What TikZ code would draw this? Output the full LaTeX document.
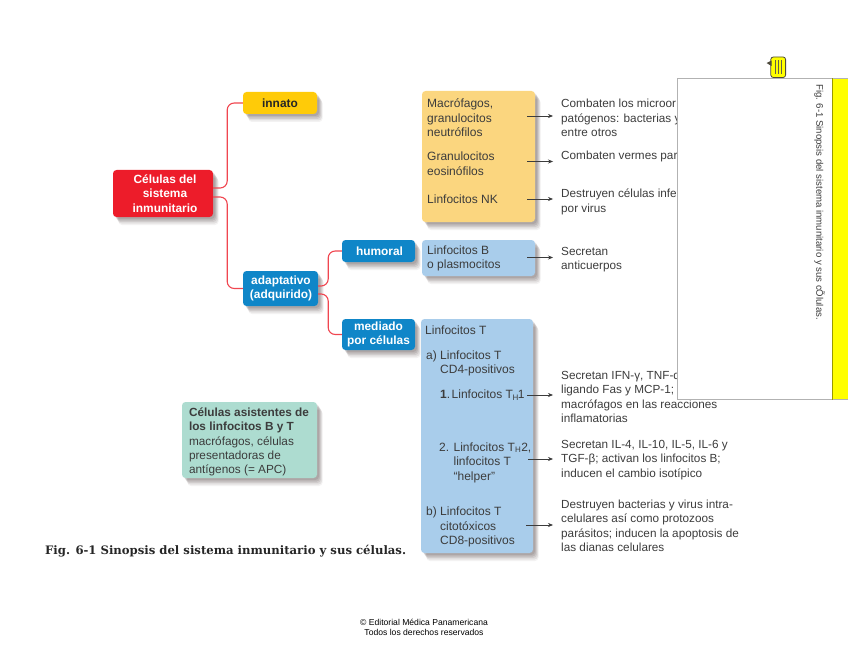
\documentclass[tikz,border=0pt]{standalone}
\usepackage{fontspec}
\setmainfont{Liberation Sans}
\newfontfamily\capfont{DejaVu Serif}
\usetikzlibrary{shadows,arrows.meta}
\definecolor{cRed}{HTML}{ED1C2A}
\definecolor{cGold}{HTML}{FFCB08}
\definecolor{cBlue}{HTML}{0F86C8}
\definecolor{cPaleBlue}{HTML}{A9CDEB}
\definecolor{cPaleYellow}{HTML}{FBD67F}
\definecolor{cTeal}{HTML}{ADDCD0}
\definecolor{cLine}{HTML}{F04650}
\definecolor{cText}{HTML}{3C3C3C}
\definecolor{cNote}{HTML}{FFFF00}
\definecolor{cShade}{HTML}{3A2A2A}
\tikzset{
  softshadow/.style={
    drop shadow={shadow xshift=5.5pt,shadow yshift=-8pt,opacity=.06,fill=cShade},
    drop shadow={shadow xshift=5pt,shadow yshift=-6.5pt,opacity=.09,fill=cShade},
    drop shadow={shadow xshift=4pt,shadow yshift=-5pt,opacity=.11,fill=cShade},
    drop shadow={shadow xshift=3pt,shadow yshift=-3.5pt,opacity=.12,fill=cShade},
    drop shadow={shadow xshift=2pt,shadow yshift=-2pt,opacity=.12,fill=cShade}},
  card/.style={rounded corners=3.5pt,softshadow,inner sep=0pt,align=center},
  headbox/.style={card,text=white,font=\fontsize{11.9}{14.6}\selectfont\bfseries},
  plainbox/.style={card,text=cText,font=\fontsize{12}{14.5}\selectfont},
  txt/.style={inner sep=0pt,anchor=west,align=left,text=cText,font=\fontsize{12}{14.5}\selectfont},
  rtxt/.style={txt,font=\fontsize{11.75}{14.5}\selectfont},
  branch/.style={draw=cLine,line width=1.1pt,rounded corners=7pt},
  arrowline/.style={draw=cText,line width=.65pt,-{Stealth[length=5pt,width=4pt]}}
}
\begin{document}
\begin{tikzpicture}[x=1pt,y=-1pt]
\useasboundingbox (0,0) rectangle (848,655);
% coloured boxes
\node[headbox,fill=cRed,minimum width=100pt,minimum height=47pt] (root) at (163,193.5) {\hspace*{4pt}Células del\\\hspace*{4pt}sistema\\\hspace*{4pt}inmunitario};
\node[headbox,fill=cGold,text=black!85,minimum width=74pt,minimum height=22pt] (innato) at (280,103) {innato};
\node[headbox,fill=cBlue,minimum width=75pt,minimum height=35pt] (adapt) at (280.5,288.5) {\hspace*{1pt}adaptativo\\\hspace*{1pt}(adquirido)};
\node[headbox,fill=cBlue,minimum width=73pt,minimum height=22pt] (humoral) at (378.5,251) {\hspace*{2pt}humoral};
\node[headbox,fill=cBlue,minimum width=73pt,minimum height=31pt] (mediado) at (378.5,334.5) {mediado\\por células};
\node[plainbox,fill=cPaleYellow,minimum width=113pt,minimum height=131pt] (innatebox) at (478.5,156.5) {};
\node[plainbox,fill=cPaleBlue,minimum width=113pt,minimum height=36pt] (bbox) at (478.5,258) {};
\node[plainbox,fill=cPaleBlue,minimum width=112pt,minimum height=234pt] (tbox) at (477,436) {};
\node[plainbox,fill=cTeal,minimum width=135pt,minimum height=76pt,align=left] (helpers) at (249.5,440) {\begin{minipage}{121pt}\vspace*{4pt}\fontsize{11.8}{14.2}\selectfont\textbf{Células asistentes de\\los linfocitos B y T}\\macrófagos, células\\presentadoras de\\antígenos (= APC)\end{minipage}};
% tree connectors
\draw[branch] ([yshift=5.5pt]root.east) -- ++(14,0) |- (innato.west);
\draw[branch] ([yshift=-3.5pt]root.east) -- ++(14,0) |- (adapt.west);
\draw[branch] ([yshift=2.5pt]adapt.east) -- ++(10,0) |- (humoral.west);
\draw[branch] ([yshift=-5.5pt]adapt.east) -- ++(10,0) |- (mediado.west);
% left column
\node[txt] (l1) at (427,118) {Macrófagos,\\granulocitos\\neutrófilos};
\node[txt] (l2) at (427,163.5) {Granulocitos\\eosinófilos};
\node[txt] (l3) at (427,199) {Linfocitos NK};
\node[txt] (l4) at (427,258.5) {Linfocitos B\\o plasmocitos};
\node[txt] (l5) at (425,330) {Linfocitos T};
\node[txt] (l6) at (426,363.5) {a) Linfocitos T\\\phantom{a) }CD4-positivos};
\node[txt] (l7) at (440,395) {\textbf{1}.\hspace{1.5pt}Linfocitos T\textsubscript{\hspace{-.5pt}H}\hspace{-1pt}1};
\node[txt] (l8) at (439,462.5) {2. Linfocitos T\textsubscript{H}2,\\\phantom{2. }linfocitos T\\\phantom{2. }“helper”};
\node[txt] (l9) at (426,527) {b) Linfocitos T\\\phantom{b) }citotóxicos\\\phantom{b) }CD8-positivos};
% right column
\node[rtxt] (r1) at (561,118) {Combaten los microor\\patógenos: bacterias y\\entre otros};
\node[rtxt] (r2) at (561,156.5) {Combaten vermes par};
\node[rtxt] (r3) at (561,202) {Destruyen células infe\\por virus};
\node[rtxt] (r4) at (561,259.5) {Secretan\\anticuerpos};
\node[rtxt] (r5) at (561,397) {Secretan IFN-γ, TNF-α\\ligando Fas y MCP-1;\\macrófagos en las reacciones\\inflamatorias};
\node[rtxt] (r6) at (561,460) {Secretan IL-4, IL-10, IL-5, IL-6 y\\TGF-β; activan los linfocitos B;\\inducen el cambio isotípico};
\node[rtxt] (r7) at (561,526) {Destruyen bacterias y virus intra-\\celulares así como protozoos\\parásitos; inducen la apoptosis de\\las dianas celulares};
% arrows
\coordinate (s1) at (527,116); \coordinate (e1) at (553,116);
\coordinate (s2) at (527,161.5); \coordinate (e2) at (553,161.5);
\coordinate (s3) at (527,199); \coordinate (e3) at (553,199);
\coordinate (s4) at (527,257.5); \coordinate (e4) at (553,257.5);
\coordinate (s5) at (527,395); \coordinate (e5) at (553,395);
\coordinate (s6) at (528,459); \coordinate (e6) at (553,459);
\coordinate (s7) at (526,525); \coordinate (e7) at (553,525);
\foreach \k in {1,...,7} {\draw[arrowline] (s\k) -- (e\k);}
% caption and footer
\node[inner sep=0pt,anchor=west,text=black!85,font=\fontsize{11.65}{15}\capfont\bfseries] (caption) at (45,551) {Fig. 6-1 Sinopsis del sistema inmunitario y sus células.};
\node[inner sep=0pt,align=center,text=black,font=\fontsize{8.6}{10.2}\selectfont] (footer) at (424,627) {© Editorial Médica Panamericana\\Todos los derechos reservados};
% overlaid note panel
\fill[white] (677,78.5) rectangle (848,399.5);
\fill[cNote] (832,78.5) rectangle (848,399.5);
\draw[black!30,line width=.8pt] (848,78.5) -- (677,78.5) -- (677,399.5) -- (848,399.5);
\draw[cNote!60!black,line width=.7pt] (832,78.5) -- (832,399.5);
\node[inner sep=0pt,rotate=-90,anchor=west,text=cText,font=\fontsize{9.6}{12}\selectfont] (notetext) at (819.5,84) {Fig. 6-1 Sinopsis del sistema inmunitario y sus cÕlulas.};
% note icon
\draw[black!80!yellow,fill=cNote,line width=.8pt,rounded corners=2.5pt] (770.8,57) rectangle (785.6,77.5);
\fill[black!80!yellow] (771.5,60.5) -- (766.5,63) -- (771.5,66) -- cycle;
\draw[black!70!yellow,line width=.8pt] (775.5,60.5) -- (775.5,74.5) (778.2,60.5) -- (778.2,74.5) (780.9,60.5) -- (780.9,74.5);
\end{tikzpicture}
\end{document}
